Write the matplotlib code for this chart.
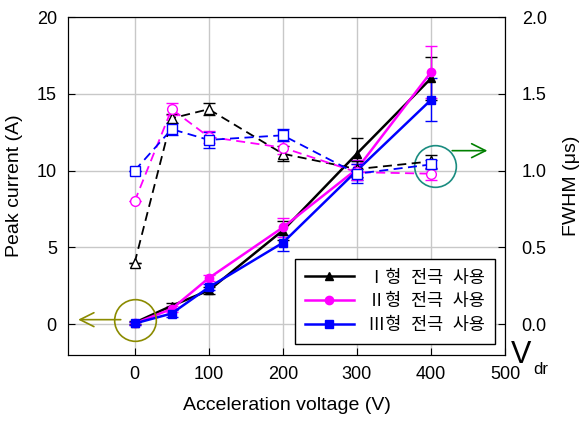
import numpy as np
import matplotlib.pyplot as plt

plt.rcParams['font.family'] = ['Liberation Sans', 'Noto Sans CJK KR', 'DejaVu Sans']

# acceleration voltage (V)
volts = [0, 50, 100, 200, 300, 400]

# peak current (A), left axis
peak_1 = [0.1, 1.2, 2.2, 6.1, 11.1, 16.0]
peak_2 = [0.05, 1.0, 3.0, 6.3, 10.1, 16.4]
peak_3 = [0.05, 0.7, 2.4, 5.3, 10.0, 14.6]
peak_err_1 = [0.1, 0.2, 0.2, 0.6, 1.0, 1.4]
peak_err_2 = [0.1, 0.2, 0.2, 0.6, 0.6, 1.7]
peak_err_3 = [0.1, 0.2, 0.2, 0.5, 0.6, 1.4]

# FWHM (us), right axis
fwhm_1 = [0.40, 1.34, 1.40, 1.11, 1.01, 1.06]
fwhm_2 = [0.80, 1.40, 1.22, 1.15, 0.99, 0.98]
fwhm_3 = [1.00, 1.27, 1.20, 1.23, 0.98, 1.04]
fwhm_err_1 = [0.0, 0.03, 0.04, 0.05, 0.05, 0.04]
fwhm_err_2 = [0.0, 0.04, 0.04, 0.04, 0.05, 0.04]
fwhm_err_3 = [0.0, 0.04, 0.05, 0.04, 0.06, 0.03]

labels = ['Ⅰ형  전극  사용', 'Ⅱ형  전극  사용', 'Ⅲ형  전극  사용']
colors = ['black', '#FF00FF', '#0000FF']
markers = ['^', 'o', 's']

fig = plt.figure(figsize=(5.88, 4.21), dpi=100)
ax = fig.add_axes([0.1156, 0.1568, 0.7432, 0.8028])
ax2 = ax.twinx()

handles = []
for peak, err, c, m in zip([peak_1, peak_2, peak_3], [peak_err_1, peak_err_2, peak_err_3], colors, markers):
    h = ax.errorbar(volts, peak, yerr=err, color=c, marker=m, markersize=6, lw=1.8,
                    capsize=4, elinewidth=1, capthick=1)
    handles.append(h[0])

for fw, err, c, m in zip([fwhm_1, fwhm_2, fwhm_3], [fwhm_err_1, fwhm_err_2, fwhm_err_3], colors, markers):
    ax2.errorbar(volts, fw, yerr=err, color=c, marker=m, markersize=7, mfc='white',
                 lw=1.3, ls=(0, (5, 3)), capsize=4, elinewidth=1, capthick=1)

ax.set_xlim(-90, 500)
ax.set_ylim(-2, 20)
ax2.set_ylim(-0.2, 2.0)
ax.set_xticks([0, 100, 200, 300, 400, 500])
ax.set_yticks([0, 5, 10, 15, 20])
ax2.set_yticks([0.0, 0.5, 1.0, 1.5, 2.0])
ax2.set_yticklabels(['0.0', '0.5', '1.0', '1.5', '2.0'])

ax.grid(True, color='#C8C8C8', lw=1)
ax.tick_params(direction='in', labelsize=13, length=5, pad=8)
ax2.tick_params(direction='in', labelsize=13, length=5, pad=12)
ax.set_axisbelow(True)

ax.set_xlabel('Acceleration voltage (V)', fontsize=14, labelpad=10)
ax.set_ylabel('Peak current (A)', fontsize=14, labelpad=10)
ax2.set_ylabel('FWHM (μs)', fontsize=14, labelpad=12)

# circles and arrows marking which axis belongs to which curves
ax2.plot([0], [0.03], marker='o', markersize=30, mfc='none', mec='#8B8B00', mew=1.2, clip_on=False)
ax2.annotate('', xy=(-80, 0.03), xytext=(-15, 0.03),
             arrowprops=dict(arrowstyle='->', color='#8B8B00', lw=1.2, mutation_scale=25))
ax2.plot([405], [1.03], marker='o', markersize=30, mfc='none', mec='#1A8C80', mew=1.2, clip_on=False)
ax2.annotate('', xy=(480, 1.13), xytext=(425, 1.13),
             arrowprops=dict(arrowstyle='->', color='green', lw=1.2, mutation_scale=25))

fig.text(0.868, 0.138, 'V', fontsize=22)
fig.text(0.907, 0.112, 'dr', fontsize=12)

ax2.legend(handles, labels, loc='lower right', bbox_to_anchor=(0.977, 0.033),
           borderaxespad=0, fancybox=False, edgecolor='black', framealpha=1,
           handlelength=2.8, labelspacing=0.45, borderpad=0.6,
           prop={'family': ['Liberation Sans', 'Noto Sans CJK KR'], 'size': 12.5})

fig.savefig('out.png', dpi=100)
